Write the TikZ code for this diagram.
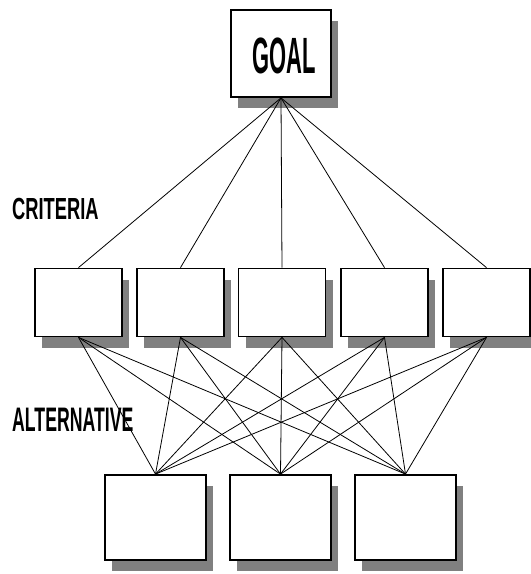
\documentclass[tikz,border=0pt]{standalone}
\usepackage{fontspec}
\setmainfont{Liberation Sans}
\usetikzlibrary{shadows}
\begin{document}
\begin{tikzpicture}[x=1pt,y=-1pt,
  box/.style={draw=black,line width=1.8pt,fill=white,inner sep=0pt,
    drop shadow={shadow xshift=7pt,shadow yshift=-11pt,fill=gray!100!white,fill=black!50,opacity=1}},
  goalbox/.style={box,minimum width=100pt,minimum height=87pt},
  critbox/.style={box,minimum width=87pt,minimum height=68pt},
  altbox/.style={box,minimum width=101pt,minimum height=85pt},
  conn/.style={draw=black,line width=0.8pt},
  lbl/.style={inner sep=0pt,font=\bfseries}]
\useasboundingbox (0,0) rectangle (531,574);
% boxes
\node[goalbox] (goal) at (281,53.5) {};
\node[critbox] (c1) at (78.5,302.5) {};
\node[critbox] (c2) at (180.5,302.5) {};
\node[critbox] (c3) at (282,302.5) {};
\node[critbox] (c4) at (384.5,302.5) {};
\node[critbox] (c5) at (486.5,302.5) {};
\node[altbox] (a1) at (155.5,517.5) {};
\node[altbox] (a2) at (280.5,517.5) {};
\node[altbox] (a3) at (405.5,517.5) {};
% texts
\node[lbl,font=\fontsize{51}{51}\selectfont\bfseries] (goaltext) at (284,55.5) {\scalebox{0.43}[1]{GOAL}};
\node[lbl,anchor=west,font=\fontsize{30.5}{30.5}\selectfont\bfseries] (crit) at (12,209) {\scalebox{0.6}[1]{CRITERIA}};
\node[lbl,anchor=west,font=\fontsize{34}{34}\selectfont\bfseries] (alt) at (12,419.5) {\scalebox{0.52}[1]{ALTERNATIVE}};
% connectors
\foreach \c in {c1,c2,c3,c4,c5}{
  \draw[conn] (goal.south) -- (\c.north);
  \foreach \a in {a1,a2,a3}{
    \draw[conn] (\c.south) -- (\a.north);
  }
}
\end{tikzpicture}
\end{document}
